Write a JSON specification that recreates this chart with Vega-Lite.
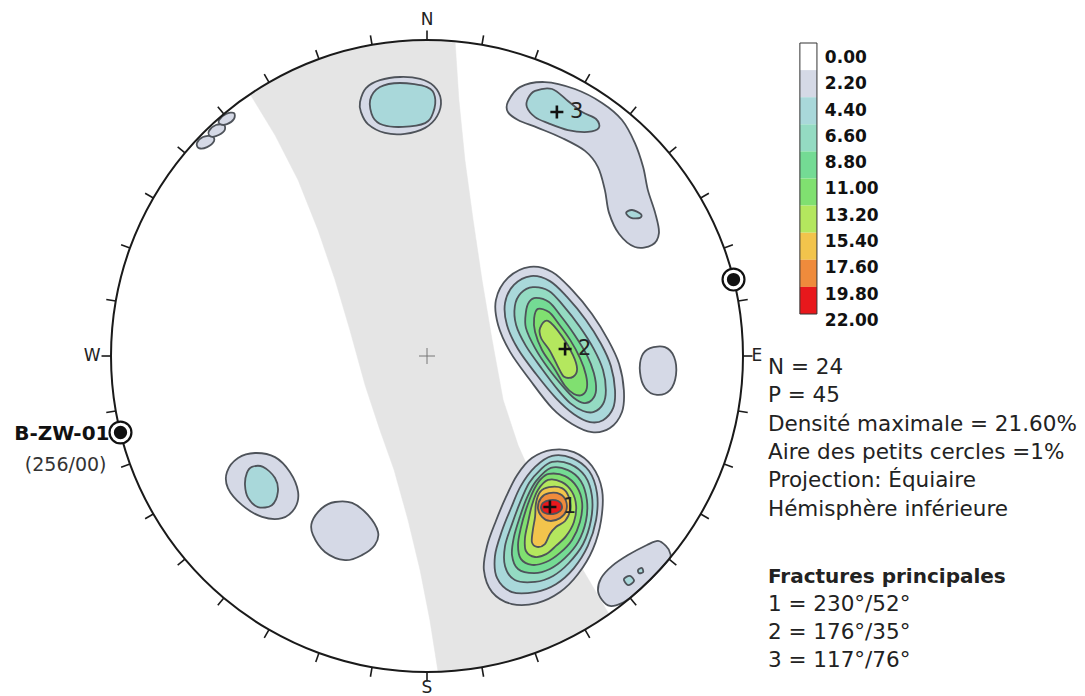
{
  "$schema": "https://vega.github.io/schema/vega-lite/v6.json",
  "width": 1085,
  "height": 696,
  "autosize": "none",
  "padding": 0,
  "background": "white",
  "config": {"view": {"stroke": null}, "font": "DejaVu Sans"},
  "datasets": {
    "ticks": [
      {"az":0,"x":0,"y":1,"x2":0,"y2":1.03},
      {"az":10,"x":0.174,"y":0.985,"x2":0.179,"y2":1.015},
      {"az":20,"x":0.342,"y":0.94,"x2":0.352,"y2":0.968},
      {"az":30,"x":0.5,"y":0.866,"x2":0.515,"y2":0.892},
      {"az":40,"x":0.643,"y":0.766,"x2":0.662,"y2":0.789},
      {"az":50,"x":0.766,"y":0.643,"x2":0.789,"y2":0.662},
      {"az":60,"x":0.866,"y":0.5,"x2":0.892,"y2":0.515},
      {"az":70,"x":0.94,"y":0.342,"x2":0.968,"y2":0.352},
      {"az":80,"x":0.985,"y":0.174,"x2":1.015,"y2":0.179},
      {"az":90,"x":1,"y":0,"x2":1.03,"y2":0},
      {"az":100,"x":0.985,"y":-0.174,"x2":1.015,"y2":-0.179},
      {"az":110,"x":0.94,"y":-0.342,"x2":0.968,"y2":-0.352},
      {"az":120,"x":0.866,"y":-0.5,"x2":0.892,"y2":-0.515},
      {"az":130,"x":0.766,"y":-0.643,"x2":0.789,"y2":-0.662},
      {"az":140,"x":0.643,"y":-0.766,"x2":0.662,"y2":-0.789},
      {"az":150,"x":0.5,"y":-0.866,"x2":0.515,"y2":-0.892},
      {"az":160,"x":0.342,"y":-0.94,"x2":0.352,"y2":-0.968},
      {"az":170,"x":0.174,"y":-0.985,"x2":0.179,"y2":-1.015},
      {"az":180,"x":0,"y":-1,"x2":0,"y2":-1.03},
      {"az":190,"x":-0.174,"y":-0.985,"x2":-0.179,"y2":-1.015},
      {"az":200,"x":-0.342,"y":-0.94,"x2":-0.352,"y2":-0.968},
      {"az":210,"x":-0.5,"y":-0.866,"x2":-0.515,"y2":-0.892},
      {"az":220,"x":-0.643,"y":-0.766,"x2":-0.662,"y2":-0.789},
      {"az":230,"x":-0.766,"y":-0.643,"x2":-0.789,"y2":-0.662},
      {"az":240,"x":-0.866,"y":-0.5,"x2":-0.892,"y2":-0.515},
      {"az":250,"x":-0.94,"y":-0.342,"x2":-0.968,"y2":-0.352},
      {"az":260,"x":-0.985,"y":-0.174,"x2":-1.015,"y2":-0.179},
      {"az":270,"x":-1,"y":0,"x2":-1.03,"y2":0},
      {"az":280,"x":-0.985,"y":0.174,"x2":-1.015,"y2":0.179},
      {"az":290,"x":-0.94,"y":0.342,"x2":-0.968,"y2":0.352},
      {"az":300,"x":-0.866,"y":0.5,"x2":-0.892,"y2":0.515},
      {"az":310,"x":-0.766,"y":0.643,"x2":-0.789,"y2":0.662},
      {"az":320,"x":-0.643,"y":0.766,"x2":-0.662,"y2":0.789},
      {"az":330,"x":-0.5,"y":0.866,"x2":-0.515,"y2":0.892},
      {"az":340,"x":-0.342,"y":0.94,"x2":-0.352,"y2":0.968},
      {"az":350,"x":-0.174,"y":0.985,"x2":-0.179,"y2":1.015}
    ],
    "girdle": [
      {"i":1,"x":-0.56,"y":0.829},{"i":2,"x":-0.5,"y":0.866},{"i":3,"x":-0.342,"y":0.94},{"i":4,"x":-0.174,"y":0.985},
      {"i":5,"x":0,"y":1},{"i":6,"x":0.089,"y":0.994},{"i":7,"x":0.101,"y":0.81},{"i":8,"x":0.12,"y":0.62},
      {"i":9,"x":0.146,"y":0.43},{"i":10,"x":0.174,"y":0.241},{"i":11,"x":0.206,"y":0.051},{"i":12,"x":0.241,"y":-0.139},
      {"i":13,"x":0.288,"y":-0.282},{"i":14,"x":0.351,"y":-0.424},{"i":15,"x":0.427,"y":-0.566},{"i":16,"x":0.503,"y":-0.693},
      {"i":17,"x":0.576,"y":-0.817},{"i":18,"x":0.5,"y":-0.866},{"i":19,"x":0.342,"y":-0.94},{"i":20,"x":0.174,"y":-0.985},
      {"i":21,"x":0.035,"y":-0.999},{"i":22,"x":0.009,"y":-0.835},{"i":23,"x":-0.022,"y":-0.677},{"i":24,"x":-0.06,"y":-0.519},
      {"i":25,"x":-0.104,"y":-0.361},{"i":26,"x":-0.149,"y":-0.234},{"i":27,"x":-0.196,"y":-0.092},{"i":28,"x":-0.244,"y":0.082},
      {"i":29,"x":-0.291,"y":0.241},{"i":30,"x":-0.345,"y":0.399},{"i":31,"x":-0.408,"y":0.557},{"i":32,"x":-0.481,"y":0.699}
    ],
    "contours": [
      {"id":"A1","level":1,"i":0,"x":-0.212,"y":0.804},{"id":"A1","level":1,"i":1,"x":-0.193,"y":0.848},{"id":"A1","level":1,"i":2,"x":-0.149,"y":0.873},{"id":"A1","level":1,"i":3,"x":-0.085,"y":0.883},{"id":"A1","level":1,"i":4,"x":-0.022,"y":0.877},{"id":"A1","level":1,"i":5,"x":0.022,"y":0.854},{"id":"A1","level":1,"i":6,"x":0.044,"y":0.81},{"id":"A1","level":1,"i":7,"x":0.032,"y":0.759},{"id":"A1","level":1,"i":8,"x":-0.006,"y":0.722},{"id":"A1","level":1,"i":9,"x":-0.07,"y":0.703},{"id":"A1","level":1,"i":10,"x":-0.133,"y":0.706},{"id":"A1","level":1,"i":11,"x":-0.187,"y":0.734},{"id":"A1","level":1,"i":12,"x":-0.209,"y":0.772},
      {"id":"A2","level":2,"i":0,"x":-0.18,"y":0.81},{"id":"A2","level":2,"i":1,"x":-0.149,"y":0.851},{"id":"A2","level":2,"i":2,"x":-0.085,"y":0.864},{"id":"A2","level":2,"i":3,"x":0,"y":0.851},{"id":"A2","level":2,"i":4,"x":0.025,"y":0.82},{"id":"A2","level":2,"i":5,"x":0.019,"y":0.769},{"id":"A2","level":2,"i":6,"x":-0.006,"y":0.737},{"id":"A2","level":2,"i":7,"x":-0.076,"y":0.725},{"id":"A2","level":2,"i":8,"x":-0.139,"y":0.731},{"id":"A2","level":2,"i":9,"x":-0.171,"y":0.756},
      {"id":"B1","level":1,"i":0,"x":0.256,"y":0.804},{"id":"B1","level":1,"i":1,"x":0.294,"y":0.851},{"id":"B1","level":1,"i":2,"x":0.373,"y":0.867},{"id":"B1","level":1,"i":3,"x":0.468,"y":0.845},{"id":"B1","level":1,"i":4,"x":0.554,"y":0.801},{"id":"B1","level":1,"i":5,"x":0.617,"y":0.747},{"id":"B1","level":1,"i":6,"x":0.658,"y":0.674},{"id":"B1","level":1,"i":7,"x":0.684,"y":0.598},{"id":"B1","level":1,"i":8,"x":0.699,"y":0.525},{"id":"B1","level":1,"i":9,"x":0.722,"y":0.453},{"id":"B1","level":1,"i":10,"x":0.734,"y":0.389},{"id":"B1","level":1,"i":11,"x":0.712,"y":0.351},{"id":"B1","level":1,"i":12,"x":0.658,"y":0.345},{"id":"B1","level":1,"i":13,"x":0.608,"y":0.386},{"id":"B1","level":1,"i":14,"x":0.576,"y":0.453},{"id":"B1","level":1,"i":15,"x":0.563,"y":0.525},{"id":"B1","level":1,"i":16,"x":0.541,"y":0.598},{"id":"B1","level":1,"i":17,"x":0.5,"y":0.649},{"id":"B1","level":1,"i":18,"x":0.427,"y":0.69},{"id":"B1","level":1,"i":19,"x":0.351,"y":0.722},{"id":"B1","level":1,"i":20,"x":0.288,"y":0.747},{"id":"B1","level":1,"i":21,"x":0.256,"y":0.772},
      {"id":"B2","level":2,"i":0,"x":0.32,"y":0.816},{"id":"B2","level":2,"i":1,"x":0.342,"y":0.839},{"id":"B2","level":2,"i":2,"x":0.396,"y":0.845},{"id":"B2","level":2,"i":3,"x":0.446,"y":0.807},{"id":"B2","level":2,"i":4,"x":0.491,"y":0.772},{"id":"B2","level":2,"i":5,"x":0.535,"y":0.75},{"id":"B2","level":2,"i":6,"x":0.544,"y":0.722},{"id":"B2","level":2,"i":7,"x":0.509,"y":0.709},{"id":"B2","level":2,"i":8,"x":0.446,"y":0.715},{"id":"B2","level":2,"i":9,"x":0.383,"y":0.737},{"id":"B2","level":2,"i":10,"x":0.342,"y":0.756},{"id":"B2","level":2,"i":11,"x":0.316,"y":0.788},
      {"id":"B3","level":2,"i":0,"x":0.63,"y":0.453},{"id":"B3","level":2,"i":1,"x":0.649,"y":0.462},{"id":"B3","level":2,"i":2,"x":0.677,"y":0.449},{"id":"B3","level":2,"i":3,"x":0.674,"y":0.437},{"id":"B3","level":2,"i":4,"x":0.646,"y":0.437},
      {"id":"C1","level":1,"i":0,"x":0.326,"y":0.282},{"id":"C1","level":1,"i":1,"x":0.396,"y":0.266},{"id":"C1","level":1,"i":2,"x":0.459,"y":0.209},{"id":"C1","level":1,"i":3,"x":0.522,"y":0.133},{"id":"C1","level":1,"i":4,"x":0.573,"y":0.051},{"id":"C1","level":1,"i":5,"x":0.608,"y":-0.025},{"id":"C1","level":1,"i":6,"x":0.623,"y":-0.108},{"id":"C1","level":1,"i":7,"x":0.617,"y":-0.177},{"id":"C1","level":1,"i":8,"x":0.579,"y":-0.228},{"id":"C1","level":1,"i":9,"x":0.522,"y":-0.241},{"id":"C1","level":1,"i":10,"x":0.459,"y":-0.215},{"id":"C1","level":1,"i":11,"x":0.396,"y":-0.165},{"id":"C1","level":1,"i":12,"x":0.326,"y":-0.076},{"id":"C1","level":1,"i":13,"x":0.263,"y":0.013},{"id":"C1","level":1,"i":14,"x":0.225,"y":0.098},{"id":"C1","level":1,"i":15,"x":0.218,"y":0.177},{"id":"C1","level":1,"i":16,"x":0.256,"y":0.247},
      {"id":"C2","level":2,"i":0,"x":0.329,"y":0.253},{"id":"C2","level":2,"i":1,"x":0.389,"y":0.237},{"id":"C2","level":2,"i":2,"x":0.443,"y":0.187},{"id":"C2","level":2,"i":3,"x":0.503,"y":0.114},{"id":"C2","level":2,"i":4,"x":0.551,"y":0.038},{"id":"C2","level":2,"i":5,"x":0.582,"y":-0.032},{"id":"C2","level":2,"i":6,"x":0.595,"y":-0.108},{"id":"C2","level":2,"i":7,"x":0.589,"y":-0.165},{"id":"C2","level":2,"i":8,"x":0.557,"y":-0.203},{"id":"C2","level":2,"i":9,"x":0.516,"y":-0.209},{"id":"C2","level":2,"i":10,"x":0.465,"y":-0.184},{"id":"C2","level":2,"i":11,"x":0.408,"y":-0.133},{"id":"C2","level":2,"i":12,"x":0.345,"y":-0.057},{"id":"C2","level":2,"i":13,"x":0.288,"y":0.022},{"id":"C2","level":2,"i":14,"x":0.253,"y":0.098},{"id":"C2","level":2,"i":15,"x":0.247,"y":0.168},{"id":"C2","level":2,"i":16,"x":0.275,"y":0.225},
      {"id":"C3","level":3,"i":0,"x":0.335,"y":0.218},{"id":"C3","level":3,"i":1,"x":0.386,"y":0.206},{"id":"C3","level":3,"i":2,"x":0.43,"y":0.161},{"id":"C3","level":3,"i":3,"x":0.484,"y":0.092},{"id":"C3","level":3,"i":4,"x":0.528,"y":0.022},{"id":"C3","level":3,"i":5,"x":0.557,"y":-0.044},{"id":"C3","level":3,"i":6,"x":0.566,"y":-0.108},{"id":"C3","level":3,"i":7,"x":0.557,"y":-0.152},{"id":"C3","level":3,"i":8,"x":0.528,"y":-0.177},{"id":"C3","level":3,"i":9,"x":0.494,"y":-0.174},{"id":"C3","level":3,"i":10,"x":0.453,"y":-0.149},{"id":"C3","level":3,"i":11,"x":0.415,"y":-0.108},{"id":"C3","level":3,"i":12,"x":0.364,"y":-0.041},{"id":"C3","level":3,"i":13,"x":0.313,"y":0.032},{"id":"C3","level":3,"i":14,"x":0.282,"y":0.098},{"id":"C3","level":3,"i":15,"x":0.278,"y":0.158},{"id":"C3","level":3,"i":16,"x":0.297,"y":0.199},
      {"id":"C4","level":4,"i":0,"x":0.345,"y":0.184},{"id":"C4","level":4,"i":1,"x":0.386,"y":0.171},{"id":"C4","level":4,"i":2,"x":0.421,"y":0.13},{"id":"C4","level":4,"i":3,"x":0.465,"y":0.07},{"id":"C4","level":4,"i":4,"x":0.506,"y":0.003},{"id":"C4","level":4,"i":5,"x":0.528,"y":-0.054},{"id":"C4","level":4,"i":6,"x":0.535,"y":-0.108},{"id":"C4","level":4,"i":7,"x":0.522,"y":-0.139},{"id":"C4","level":4,"i":8,"x":0.497,"y":-0.149},{"id":"C4","level":4,"i":9,"x":0.465,"y":-0.133},{"id":"C4","level":4,"i":10,"x":0.434,"y":-0.101},{"id":"C4","level":4,"i":11,"x":0.383,"y":-0.038},{"id":"C4","level":4,"i":12,"x":0.342,"y":0.025},{"id":"C4","level":4,"i":13,"x":0.313,"y":0.089},{"id":"C4","level":4,"i":14,"x":0.313,"y":0.139},{"id":"C4","level":4,"i":15,"x":0.323,"y":0.171},
      {"id":"C5","level":5,"i":0,"x":0.351,"y":0.149},{"id":"C5","level":5,"i":1,"x":0.386,"y":0.139},{"id":"C5","level":5,"i":2,"x":0.415,"y":0.104},{"id":"C5","level":5,"i":3,"x":0.453,"y":0.051},{"id":"C5","level":5,"i":4,"x":0.484,"y":-0.006},{"id":"C5","level":5,"i":5,"x":0.503,"y":-0.06},{"id":"C5","level":5,"i":6,"x":0.506,"y":-0.101},{"id":"C5","level":5,"i":7,"x":0.491,"y":-0.123},{"id":"C5","level":5,"i":8,"x":0.465,"y":-0.12},{"id":"C5","level":5,"i":9,"x":0.437,"y":-0.095},{"id":"C5","level":5,"i":10,"x":0.402,"y":-0.038},{"id":"C5","level":5,"i":11,"x":0.364,"y":0.019},{"id":"C5","level":5,"i":12,"x":0.342,"y":0.076},{"id":"C5","level":5,"i":13,"x":0.339,"y":0.12},
      {"id":"C6","level":6,"i":0,"x":0.358,"y":0.089},{"id":"C6","level":6,"i":1,"x":0.383,"y":0.111},{"id":"C6","level":6,"i":2,"x":0.427,"y":0.063},{"id":"C6","level":6,"i":3,"x":0.462,"y":0.003},{"id":"C6","level":6,"i":4,"x":0.475,"y":-0.041},{"id":"C6","level":6,"i":5,"x":0.462,"y":-0.066},{"id":"C6","level":6,"i":6,"x":0.434,"y":-0.066},{"id":"C6","level":6,"i":7,"x":0.415,"y":-0.035},{"id":"C6","level":6,"i":8,"x":0.389,"y":0.016},{"id":"C6","level":6,"i":9,"x":0.361,"y":0.057},
      {"id":"P1","level":1,"i":0,"x":0.396,"y":-0.297},{"id":"P1","level":1,"i":1,"x":0.465,"y":-0.304},{"id":"P1","level":1,"i":2,"x":0.522,"y":-0.348},{"id":"P1","level":1,"i":3,"x":0.554,"y":-0.424},{"id":"P1","level":1,"i":4,"x":0.551,"y":-0.519},{"id":"P1","level":1,"i":5,"x":0.525,"y":-0.611},{"id":"P1","level":1,"i":6,"x":0.478,"y":-0.69},{"id":"P1","level":1,"i":7,"x":0.421,"y":-0.747},{"id":"P1","level":1,"i":8,"x":0.348,"y":-0.782},{"id":"P1","level":1,"i":9,"x":0.269,"y":-0.785},{"id":"P1","level":1,"i":10,"x":0.206,"y":-0.747},{"id":"P1","level":1,"i":11,"x":0.18,"y":-0.677},{"id":"P1","level":1,"i":12,"x":0.19,"y":-0.601},{"id":"P1","level":1,"i":13,"x":0.218,"y":-0.522},{"id":"P1","level":1,"i":14,"x":0.25,"y":-0.446},{"id":"P1","level":1,"i":15,"x":0.285,"y":-0.377},{"id":"P1","level":1,"i":16,"x":0.332,"y":-0.323},
      {"id":"P2","level":2,"i":0,"x":0.396,"y":-0.316},{"id":"P2","level":2,"i":1,"x":0.459,"y":-0.323},{"id":"P2","level":2,"i":2,"x":0.513,"y":-0.364},{"id":"P2","level":2,"i":3,"x":0.538,"y":-0.434},{"id":"P2","level":2,"i":4,"x":0.535,"y":-0.519},{"id":"P2","level":2,"i":5,"x":0.509,"y":-0.601},{"id":"P2","level":2,"i":6,"x":0.465,"y":-0.671},{"id":"P2","level":2,"i":7,"x":0.408,"y":-0.722},{"id":"P2","level":2,"i":8,"x":0.342,"y":-0.747},{"id":"P2","level":2,"i":9,"x":0.269,"y":-0.747},{"id":"P2","level":2,"i":10,"x":0.222,"y":-0.703},{"id":"P2","level":2,"i":11,"x":0.215,"y":-0.633},{"id":"P2","level":2,"i":12,"x":0.237,"y":-0.554},{"id":"P2","level":2,"i":13,"x":0.266,"y":-0.481},{"id":"P2","level":2,"i":14,"x":0.297,"y":-0.411},{"id":"P2","level":2,"i":15,"x":0.342,"y":-0.351},
      {"id":"P3","level":3,"i":0,"x":0.396,"y":-0.335},{"id":"P3","level":3,"i":1,"x":0.453,"y":-0.342},{"id":"P3","level":3,"i":2,"x":0.5,"y":-0.38},{"id":"P3","level":3,"i":3,"x":0.522,"y":-0.443},{"id":"P3","level":3,"i":4,"x":0.519,"y":-0.519},{"id":"P3","level":3,"i":5,"x":0.494,"y":-0.595},{"id":"P3","level":3,"i":6,"x":0.449,"y":-0.655},{"id":"P3","level":3,"i":7,"x":0.399,"y":-0.696},{"id":"P3","level":3,"i":8,"x":0.342,"y":-0.715},{"id":"P3","level":3,"i":9,"x":0.278,"y":-0.709},{"id":"P3","level":3,"i":10,"x":0.247,"y":-0.665},{"id":"P3","level":3,"i":11,"x":0.247,"y":-0.601},{"id":"P3","level":3,"i":12,"x":0.269,"y":-0.532},{"id":"P3","level":3,"i":13,"x":0.294,"y":-0.465},{"id":"P3","level":3,"i":14,"x":0.323,"y":-0.402},{"id":"P3","level":3,"i":15,"x":0.358,"y":-0.361},
      {"id":"P4","level":4,"i":0,"x":0.392,"y":-0.354},{"id":"P4","level":4,"i":1,"x":0.446,"y":-0.361},{"id":"P4","level":4,"i":2,"x":0.487,"y":-0.396},{"id":"P4","level":4,"i":3,"x":0.506,"y":-0.456},{"id":"P4","level":4,"i":4,"x":0.503,"y":-0.522},{"id":"P4","level":4,"i":5,"x":0.478,"y":-0.589},{"id":"P4","level":4,"i":6,"x":0.437,"y":-0.639},{"id":"P4","level":4,"i":7,"x":0.389,"y":-0.674},{"id":"P4","level":4,"i":8,"x":0.339,"y":-0.687},{"id":"P4","level":4,"i":9,"x":0.288,"y":-0.674},{"id":"P4","level":4,"i":10,"x":0.269,"y":-0.63},{"id":"P4","level":4,"i":11,"x":0.275,"y":-0.573},{"id":"P4","level":4,"i":12,"x":0.294,"y":-0.509},{"id":"P4","level":4,"i":13,"x":0.316,"y":-0.449},{"id":"P4","level":4,"i":14,"x":0.345,"y":-0.396},
      {"id":"P5","level":5,"i":0,"x":0.386,"y":-0.373},{"id":"P5","level":5,"i":1,"x":0.437,"y":-0.38},{"id":"P5","level":5,"i":2,"x":0.475,"y":-0.415},{"id":"P5","level":5,"i":3,"x":0.491,"y":-0.465},{"id":"P5","level":5,"i":4,"x":0.484,"y":-0.525},{"id":"P5","level":5,"i":5,"x":0.459,"y":-0.582},{"id":"P5","level":5,"i":6,"x":0.421,"y":-0.623},{"id":"P5","level":5,"i":7,"x":0.377,"y":-0.652},{"id":"P5","level":5,"i":8,"x":0.332,"y":-0.661},{"id":"P5","level":5,"i":9,"x":0.297,"y":-0.642},{"id":"P5","level":5,"i":10,"x":0.288,"y":-0.598},{"id":"P5","level":5,"i":11,"x":0.297,"y":-0.544},{"id":"P5","level":5,"i":12,"x":0.313,"y":-0.487},{"id":"P5","level":5,"i":13,"x":0.335,"y":-0.43},{"id":"P5","level":5,"i":14,"x":0.358,"y":-0.392},
      {"id":"P6","level":6,"i":0,"x":0.383,"y":-0.392},{"id":"P6","level":6,"i":1,"x":0.427,"y":-0.399},{"id":"P6","level":6,"i":2,"x":0.459,"y":-0.43},{"id":"P6","level":6,"i":3,"x":0.472,"y":-0.475},{"id":"P6","level":6,"i":4,"x":0.465,"y":-0.525},{"id":"P6","level":6,"i":5,"x":0.44,"y":-0.57},{"id":"P6","level":6,"i":6,"x":0.408,"y":-0.601},{"id":"P6","level":6,"i":7,"x":0.377,"y":-0.627},{"id":"P6","level":6,"i":8,"x":0.342,"y":-0.636},{"id":"P6","level":6,"i":9,"x":0.313,"y":-0.617},{"id":"P6","level":6,"i":10,"x":0.31,"y":-0.576},{"id":"P6","level":6,"i":11,"x":0.32,"y":-0.525},{"id":"P6","level":6,"i":12,"x":0.332,"y":-0.472},{"id":"P6","level":6,"i":13,"x":0.351,"y":-0.424},
      {"id":"P7","level":7,"i":0,"x":0.358,"y":-0.43},{"id":"P7","level":7,"i":1,"x":0.386,"y":-0.415},{"id":"P7","level":7,"i":2,"x":0.427,"y":-0.418},{"id":"P7","level":7,"i":3,"x":0.449,"y":-0.446},{"id":"P7","level":7,"i":4,"x":0.453,"y":-0.487},{"id":"P7","level":7,"i":5,"x":0.437,"y":-0.522},{"id":"P7","level":7,"i":6,"x":0.408,"y":-0.541},{"id":"P7","level":7,"i":7,"x":0.389,"y":-0.563},{"id":"P7","level":7,"i":8,"x":0.373,"y":-0.595},{"id":"P7","level":7,"i":9,"x":0.348,"y":-0.604},{"id":"P7","level":7,"i":10,"x":0.332,"y":-0.589},{"id":"P7","level":7,"i":11,"x":0.335,"y":-0.551},{"id":"P7","level":7,"i":12,"x":0.342,"y":-0.509},{"id":"P7","level":7,"i":13,"x":0.345,"y":-0.465},
      {"id":"P8","level":8,"i":0,"x":0.361,"y":-0.449},{"id":"P8","level":8,"i":1,"x":0.386,"y":-0.434},{"id":"P8","level":8,"i":2,"x":0.421,"y":-0.437},{"id":"P8","level":8,"i":3,"x":0.44,"y":-0.459},{"id":"P8","level":8,"i":4,"x":0.44,"y":-0.491},{"id":"P8","level":8,"i":5,"x":0.421,"y":-0.513},{"id":"P8","level":8,"i":6,"x":0.389,"y":-0.522},{"id":"P8","level":8,"i":7,"x":0.364,"y":-0.509},{"id":"P8","level":8,"i":8,"x":0.351,"y":-0.481},
      {"id":"P9","level":9,"i":0,"x":0.367,"y":-0.465},{"id":"P9","level":9,"i":1,"x":0.389,"y":-0.456},{"id":"P9","level":9,"i":2,"x":0.415,"y":-0.459},{"id":"P9","level":9,"i":3,"x":0.427,"y":-0.475},{"id":"P9","level":9,"i":4,"x":0.421,"y":-0.491},{"id":"P9","level":9,"i":5,"x":0.399,"y":-0.5},{"id":"P9","level":9,"i":6,"x":0.373,"y":-0.497},{"id":"P9","level":9,"i":7,"x":0.361,"y":-0.481},
      {"id":"D1","level":1,"i":0,"x":0.706,"y":0.025},{"id":"D1","level":1,"i":1,"x":0.753,"y":0.028},{"id":"D1","level":1,"i":2,"x":0.782,"y":-0.003},{"id":"D1","level":1,"i":3,"x":0.788,"y":-0.06},{"id":"D1","level":1,"i":4,"x":0.769,"y":-0.108},{"id":"D1","level":1,"i":5,"x":0.728,"y":-0.123},{"id":"D1","level":1,"i":6,"x":0.69,"y":-0.101},{"id":"D1","level":1,"i":7,"x":0.674,"y":-0.051},{"id":"D1","level":1,"i":8,"x":0.68,"y":0},
      {"id":"E1","level":1,"i":0,"x":0.541,"y":-0.741},{"id":"E1","level":1,"i":1,"x":0.551,"y":-0.703},{"id":"E1","level":1,"i":2,"x":0.585,"y":-0.665},{"id":"E1","level":1,"i":3,"x":0.636,"y":-0.63},{"id":"E1","level":1,"i":4,"x":0.696,"y":-0.598},{"id":"E1","level":1,"i":5,"x":0.731,"y":-0.585},{"id":"E1","level":1,"i":6,"x":0.756,"y":-0.601},{"id":"E1","level":1,"i":7,"x":0.769,"y":-0.623},{"id":"E1","level":1,"i":8,"x":0.766,"y":-0.643},{"id":"E1","level":1,"i":9,"x":0.707,"y":-0.707},{"id":"E1","level":1,"i":10,"x":0.649,"y":-0.76},{"id":"E1","level":1,"i":11,"x":0.617,"y":-0.782},{"id":"E1","level":1,"i":12,"x":0.579,"y":-0.791},{"id":"E1","level":1,"i":13,"x":0.554,"y":-0.772},
      {"id":"E2","level":2,"i":0,"x":0.623,"y":-0.706},{"id":"E2","level":2,"i":1,"x":0.642,"y":-0.696},{"id":"E2","level":2,"i":2,"x":0.655,"y":-0.712},{"id":"E2","level":2,"i":3,"x":0.636,"y":-0.725},
      {"id":"E3","level":2,"i":0,"x":0.668,"y":-0.677},{"id":"E3","level":2,"i":1,"x":0.68,"y":-0.671},{"id":"E3","level":2,"i":2,"x":0.684,"y":-0.684},{"id":"E3","level":2,"i":3,"x":0.671,"y":-0.687},
      {"id":"F1","level":1,"i":0,"x":-0.633,"y":-0.367},{"id":"F1","level":1,"i":1,"x":-0.598,"y":-0.323},{"id":"F1","level":1,"i":2,"x":-0.544,"y":-0.307},{"id":"F1","level":1,"i":3,"x":-0.481,"y":-0.32},{"id":"F1","level":1,"i":4,"x":-0.434,"y":-0.367},{"id":"F1","level":1,"i":5,"x":-0.408,"y":-0.43},{"id":"F1","level":1,"i":6,"x":-0.418,"y":-0.481},{"id":"F1","level":1,"i":7,"x":-0.459,"y":-0.513},{"id":"F1","level":1,"i":8,"x":-0.522,"y":-0.509},{"id":"F1","level":1,"i":9,"x":-0.585,"y":-0.472},{"id":"F1","level":1,"i":10,"x":-0.63,"y":-0.418},
      {"id":"F2","level":2,"i":0,"x":-0.57,"y":-0.37},{"id":"F2","level":2,"i":1,"x":-0.554,"y":-0.351},{"id":"F2","level":2,"i":2,"x":-0.519,"y":-0.351},{"id":"F2","level":2,"i":3,"x":-0.481,"y":-0.386},{"id":"F2","level":2,"i":4,"x":-0.472,"y":-0.43},{"id":"F2","level":2,"i":5,"x":-0.491,"y":-0.472},{"id":"F2","level":2,"i":6,"x":-0.535,"y":-0.478},{"id":"F2","level":2,"i":7,"x":-0.566,"y":-0.449},{"id":"F2","level":2,"i":8,"x":-0.576,"y":-0.408},
      {"id":"G1","level":1,"i":0,"x":-0.364,"y":-0.525},{"id":"G1","level":1,"i":1,"x":-0.332,"y":-0.481},{"id":"G1","level":1,"i":2,"x":-0.291,"y":-0.462},{"id":"G1","level":1,"i":3,"x":-0.237,"y":-0.465},{"id":"G1","level":1,"i":4,"x":-0.187,"y":-0.503},{"id":"G1","level":1,"i":5,"x":-0.155,"y":-0.557},{"id":"G1","level":1,"i":6,"x":-0.165,"y":-0.598},{"id":"G1","level":1,"i":7,"x":-0.206,"y":-0.63},{"id":"G1","level":1,"i":8,"x":-0.259,"y":-0.646},{"id":"G1","level":1,"i":9,"x":-0.323,"y":-0.62},{"id":"G1","level":1,"i":10,"x":-0.361,"y":-0.566},
      {"id":"H1","level":1,"i":0,"x":-0.728,"y":0.674},{"id":"H1","level":1,"i":1,"x":-0.709,"y":0.693},{"id":"H1","level":1,"i":2,"x":-0.68,"y":0.696},{"id":"H1","level":1,"i":3,"x":-0.674,"y":0.68},{"id":"H1","level":1,"i":4,"x":-0.696,"y":0.661},{"id":"H1","level":1,"i":5,"x":-0.722,"y":0.658},
      {"id":"H2","level":1,"i":0,"x":-0.69,"y":0.712},{"id":"H2","level":1,"i":1,"x":-0.668,"y":0.731},{"id":"H2","level":1,"i":2,"x":-0.642,"y":0.731},{"id":"H2","level":1,"i":3,"x":-0.642,"y":0.712},{"id":"H2","level":1,"i":4,"x":-0.668,"y":0.696},{"id":"H2","level":1,"i":5,"x":-0.687,"y":0.696},
      {"id":"H3","level":1,"i":0,"x":-0.658,"y":0.747},{"id":"H3","level":1,"i":1,"x":-0.636,"y":0.766},{"id":"H3","level":1,"i":2,"x":-0.611,"y":0.769},{"id":"H3","level":1,"i":3,"x":-0.611,"y":0.75},{"id":"H3","level":1,"i":4,"x":-0.633,"y":0.734},{"id":"H3","level":1,"i":5,"x":-0.655,"y":0.734}
    ],
    "peaks": [
      {"peak":"1","x":0.389,"y":-0.478},
      {"peak":"2","x":0.437,"y":0.022},
      {"peak":"3","x":0.411,"y":0.772}
    ],
    "stations": [
      {"name":"B-ZW-01","trend":"(256/00)","x":-0.97,"y":-0.242},
      {"name":"","trend":"","x":0.97,"y":0.242}
    ],
    "compass": [
      {"label":"N","x":0,"y":1.063},
      {"label":"E","x":1.044,"y":0},
      {"label":"S","x":0,"y":-1.051},
      {"label":"W","x":-1.06,"y":0}
    ],
    "bands": [
      {"level":0,"lo":0,"hi":2.2},{"level":1,"lo":2.2,"hi":4.4},{"level":2,"lo":4.4,"hi":6.6},
      {"level":3,"lo":6.6,"hi":8.8},{"level":4,"lo":8.8,"hi":11},{"level":5,"lo":11,"hi":13.2},
      {"level":6,"lo":13.2,"hi":15.4},{"level":7,"lo":15.4,"hi":17.6},{"level":8,"lo":17.6,"hi":19.8},
      {"level":9,"lo":19.8,"hi":22}
    ],
    "breaks": [
      {"v":0},{"v":2.2},{"v":4.4},{"v":6.6},{"v":8.8},{"v":11},{"v":13.2},{"v":15.4},{"v":17.6},{"v":19.8},{"v":22}
    ],
    "notes": [
      {"block":"stats","lines":["N = 24","P = 45","Densité maximale = 21.60%","Aire des petits cercles =1%","Projection: Équiaire","Hémisphère inférieure"]},
      {"block":"fractures","lines":["1 = 230°/52°","2 = 176°/35°","3 = 117°/76°"]}
    ]
  },
  "resolve": {"scale": {"y": "independent"}},
  "layer": [
    {
      "encoding": {
        "x": {"field": "x", "type": "quantitative", "scale": {"domain": [-1.3513, 2.0823], "nice": false, "zero": false}, "axis": null},
        "y": {"field": "y", "type": "quantitative", "scale": {"domain": [-1.0759, 1.1266], "nice": false, "zero": false}, "axis": null}
      },
      "layer": [
        {
          "data": {"name": "girdle"},
          "mark": {"type": "line", "interpolate": "linear-closed", "fill": "#e5e5e5", "stroke": "#e5e5e5", "strokeWidth": 0.5},
          "encoding": {"order": {"field": "i", "type": "quantitative"}}
        },
        {
          "data": {"name": "contours"},
          "mark": {"type": "line", "interpolate": "cardinal-closed", "stroke": "#4e535a", "strokeWidth": 1.8},
          "encoding": {
            "detail": {"field": "id", "type": "nominal"},
            "fill": {"field": "level", "type": "ordinal", "legend": null,
              "scale": {"domain": [0,1,2,3,4,5,6,7,8,9],
                "range": ["#ffffff","#d5d9e6","#a9d8da","#94dbc2","#74db94","#80e070","#b4e75e","#f2c44c","#ef8b3c","#e8181c"]}},
            "order": {"field": "i", "type": "quantitative"}
          }
        },
        {
          "data": {"name": "ticks"},
          "mark": {"type": "line", "interpolate": "cardinal-closed", "stroke": "#1a1a1a", "strokeWidth": 2},
          "encoding": {"order": {"field": "az", "type": "quantitative"}}
        },
        {
          "data": {"name": "ticks"},
          "mark": {"type": "rule", "stroke": "#1a1a1a", "strokeWidth": 1.6},
          "encoding": {"x2": {"field": "x2"}, "y2": {"field": "y2"}}
        },
        {
          "data": {"values": [{"x": 0, "y": 0}]},
          "mark": {"type": "point", "shape": "M-1,0L1,0M0,-1L0,1", "size": 256, "filled": false, "stroke": "#777777", "strokeWidth": 1, "opacity": 1}
        },
        {
          "data": {"name": "peaks"},
          "mark": {"type": "point", "shape": "M-1,0L1,0M0,-1L0,1", "size": 169, "filled": false, "stroke": "#111111", "strokeWidth": 2.6, "opacity": 1}
        },
        {
          "data": {"name": "peaks"},
          "mark": {"type": "text", "align": "left", "baseline": "middle", "dx": 13, "fontSize": 21, "fill": "#222222"},
          "encoding": {"text": {"field": "peak"}}
        },
        {
          "data": {"name": "stations"},
          "mark": {"type": "point", "shape": "circle", "size": 480, "filled": true, "fill": "#ffffff", "stroke": "#111111", "strokeWidth": 2.2, "opacity": 1}
        },
        {
          "data": {"name": "stations"},
          "mark": {"type": "point", "shape": "circle", "size": 177, "filled": true, "fill": "#111111", "strokeWidth": 0, "opacity": 1}
        },
        {
          "data": {"name": "stations"},
          "mark": {"type": "text", "align": "right", "baseline": "middle", "dx": -11, "dy": 2, "fontSize": 20, "fontWeight": "bold", "fill": "#111111"},
          "encoding": {"text": {"field": "name"}}
        },
        {
          "data": {"name": "stations"},
          "mark": {"type": "text", "align": "right", "baseline": "middle", "dx": -14, "dy": 33, "fontSize": 19, "fill": "#333333"},
          "encoding": {"text": {"field": "trend"}}
        },
        {
          "data": {"name": "compass"},
          "mark": {"type": "text", "align": "center", "baseline": "middle", "fontSize": 17, "fill": "#222222"},
          "encoding": {"text": {"field": "label"}}
        }
      ]
    },
    {
      "data": {"name": "notes"},
      "transform": [{"filter": "datum.block == 'stats'"}],
      "mark": {"type": "text", "align": "left", "baseline": "middle", "fontSize": 21.5, "lineHeight": 28.3, "fill": "#222222"},
      "encoding": {
        "x": {"datum": 1.079, "type": "quantitative"},
        "y": {"datum": -0.038, "type": "quantitative", "scale": {"domain": [-1.0759, 1.1266], "nice": false, "zero": false}, "axis": null},
        "text": {"field": "lines"}
      }
    },
    {
      "data": {"name": "notes"},
      "transform": [{"filter": "datum.block == 'fractures'"}],
      "mark": {"type": "text", "align": "left", "baseline": "middle", "fontSize": 21.5, "lineHeight": 28, "fill": "#222222"},
      "encoding": {
        "x": {"datum": 1.079, "type": "quantitative"},
        "y": {"datum": -0.788, "type": "quantitative", "scale": {"domain": [-1.0759, 1.1266], "nice": false, "zero": false}, "axis": null},
        "text": {"field": "lines"}
      }
    },
    {
      "data": {"values": [{"title": "Fractures principales"}]},
      "mark": {"type": "text", "align": "left", "baseline": "middle", "fontSize": 20, "fontWeight": "bold", "fill": "#222222"},
      "encoding": {
        "x": {"datum": 1.079, "type": "quantitative"},
        "y": {"datum": -0.699, "type": "quantitative", "scale": {"domain": [-1.0759, 1.1266], "nice": false, "zero": false}, "axis": null},
        "text": {"field": "title"}
      }
    },
    {
      "layer": [
        {
          "data": {"name": "bands"},
          "mark": {"type": "rect"},
          "encoding": {
            "x": {"datum": 1.18, "type": "quantitative", "scale": {"domain": [-1.3513, 2.0823], "nice": false, "zero": false}, "axis": null},
            "x2": {"datum": 1.234},
            "y": {"field": "lo", "type": "quantitative", "scale": {"domain": [-3.491, 53.01], "reverse": true, "nice": false, "zero": false}, "axis": null},
            "y2": {"field": "hi"},
            "fill": {"field": "level", "type": "ordinal", "legend": null}
          }
        },
        {
          "data": {"values": [{"lo": 0, "hi": 22}]},
          "mark": {"type": "rect", "fillOpacity": 0, "stroke": "#333333", "strokeWidth": 1},
          "encoding": {
            "x": {"datum": 1.18, "type": "quantitative"},
            "x2": {"datum": 1.234},
            "y": {"field": "lo", "type": "quantitative"},
            "y2": {"field": "hi"}
          }
        }
      ]
    },
    {
      "data": {"name": "breaks"},
      "mark": {"type": "text", "align": "left", "baseline": "middle", "fontSize": 17, "fontWeight": "bold", "fill": "#111111"},
      "encoding": {
        "x": {"datum": 1.259, "type": "quantitative"},
        "y": {"field": "v", "type": "quantitative", "scale": {"domain": [-4.852, 53.37], "reverse": true, "nice": false, "zero": false}, "axis": null},
        "text": {"field": "v", "type": "quantitative", "format": ".2f"}
      }
    }
  ]
}
